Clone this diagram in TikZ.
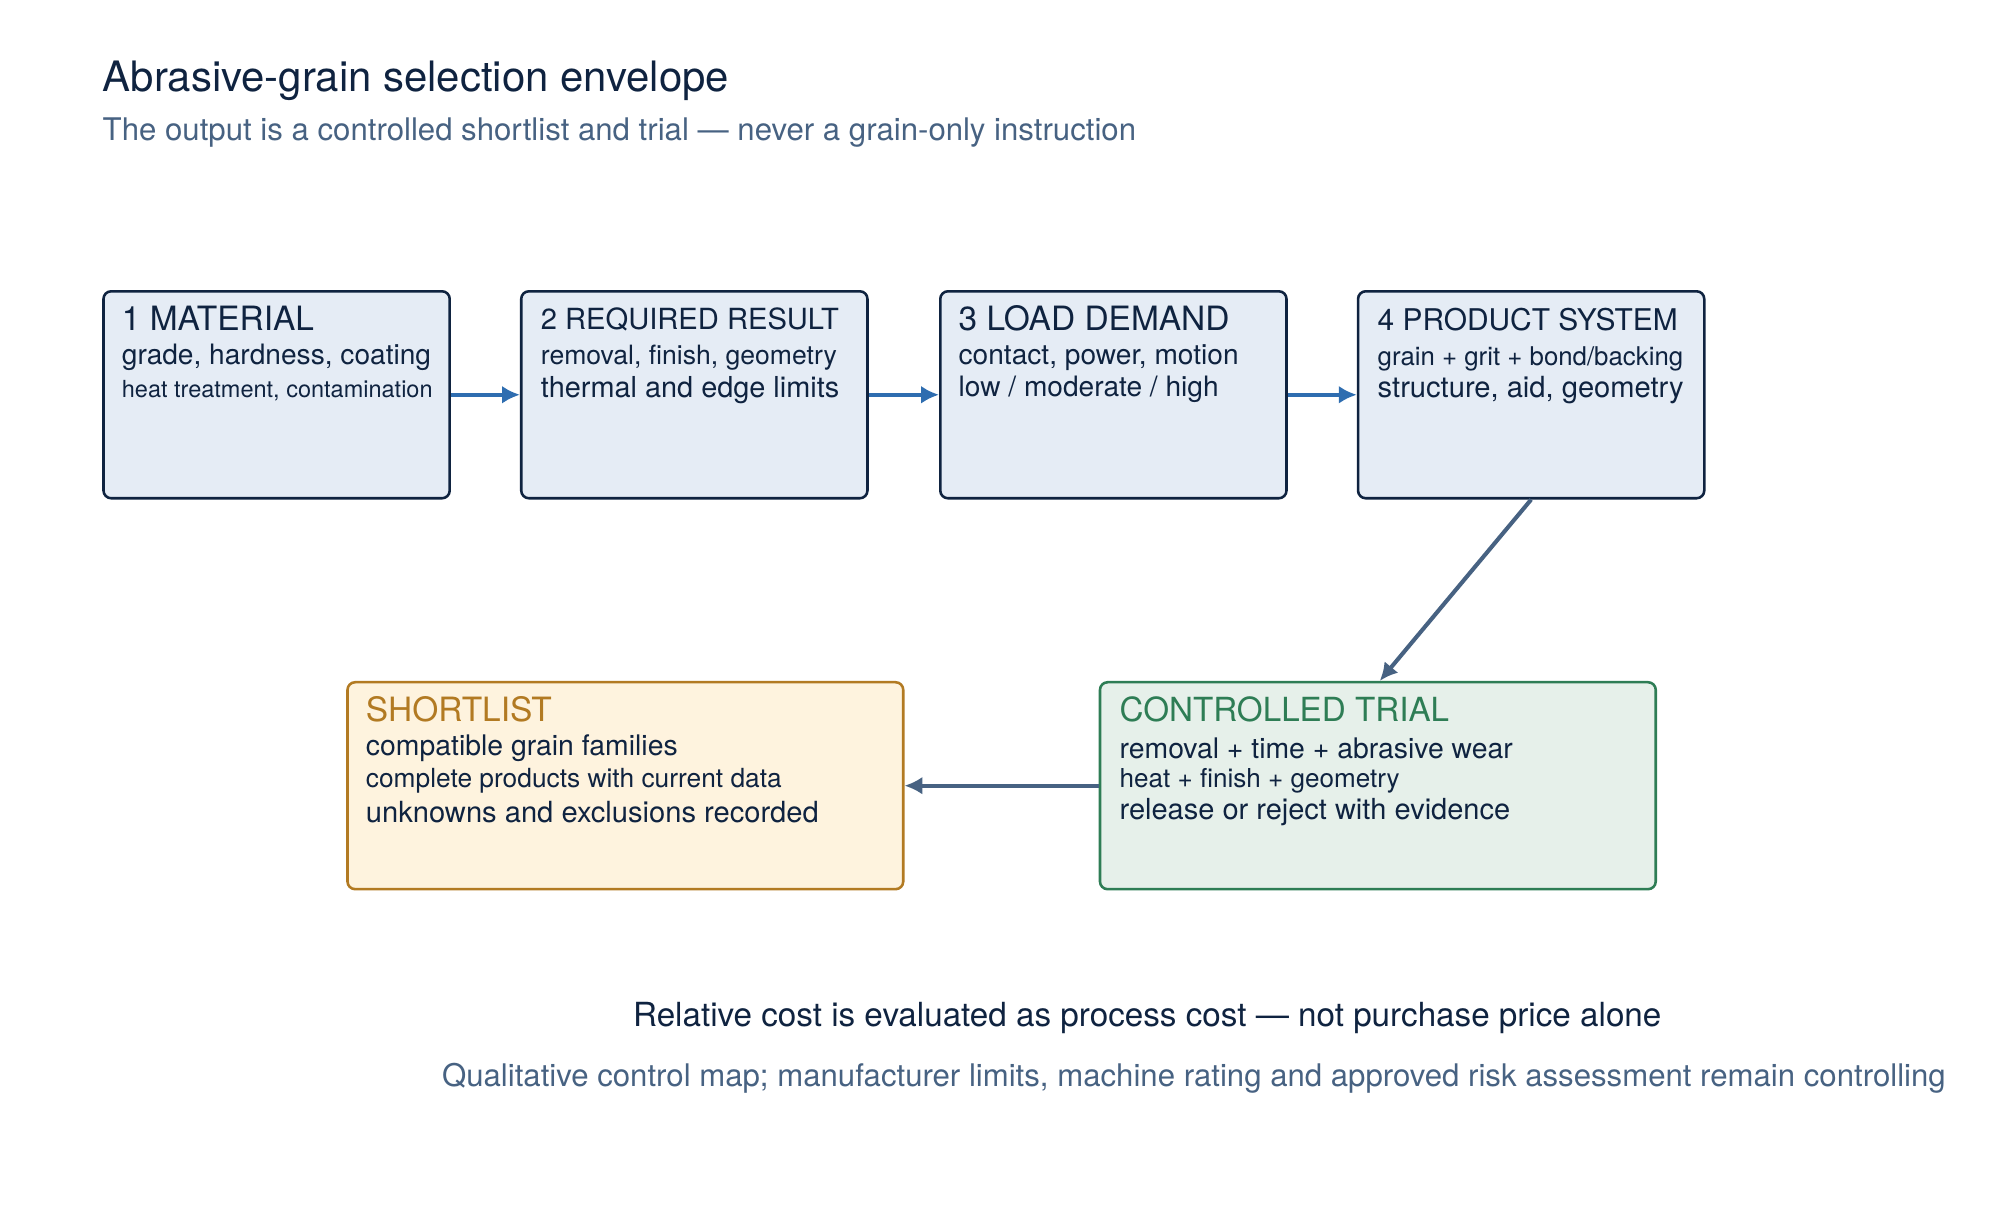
\documentclass[tikz,border=0pt]{standalone}
\usepackage{fontspec}
\setmainfont{TeX Gyre Heros}
\definecolor{navy}{HTML}{0F2340}
\definecolor{slate}{HTML}{476282}
\definecolor{flowblue}{HTML}{2E6DB0}
\definecolor{boxfill}{HTML}{E5ECF5}
\definecolor{shortfill}{HTML}{FEF3DE}
\definecolor{shortline}{HTML}{B27A22}
\definecolor{trialfill}{HTML}{E6F0EA}
\definecolor{trialline}{HTML}{2E7D55}
\tikzset{
  stage/.style={draw=navy, fill=boxfill, line width=1pt, rounded corners=3pt, minimum width=135.5pt, minimum height=81pt, inner sep=0pt},
  wide/.style={line width=1pt, rounded corners=3pt, minimum width=217.5pt, minimum height=81pt, inner sep=0pt},
  txt/.style={anchor=west, inner sep=0pt, text=navy},
  flow/.style={-{Latex[length=7pt,width=7pt]}, flowblue, line width=1.6pt},
  link/.style={-{Latex[length=7pt,width=7pt]}, slate, line width=1.6pt}
}
\usetikzlibrary{arrows.meta}
\newcommand{\fs}[1]{\fontsize{#1}{#1}\selectfont}
\begin{document}
\begin{tikzpicture}[x=0.5pt,y=0.5pt]
\useasboundingbox (0,0) rectangle (1560,-952);
% title
\node[txt] (title) at (80,-63) {\fs{16.4}Abrasive-grain selection envelope};
\node[txt, text=slate] (sub) at (80,-104) {\fs{12.2}The output is a controlled shortlist and trial — never a grain-only instruction};
% stages
\node[stage] (mat) at (216.5,-309) {};
\node[stage] (res) at (543.5,-309) {};
\node[stage] (load) at (871.5,-309) {};
\node[stage] (prod) at (1198.5,-309) {};
\node[txt] at (95,-249) {\fs{13.1}1 MATERIAL};
\node[txt] at (95,-280) {\fs{11}grade, hardness, coating};
\node[txt] at (95,-306) {\fs{9.2}heat treatment, contamination};
\node[txt] at (423,-250) {\fs{11.4}2 REQUIRED RESULT};
\node[txt] at (423,-280) {\fs{10.4}removal, finish, geometry};
\node[txt] at (423,-305) {\fs{11.3}thermal and edge limits};
\node[txt] at (750,-249) {\fs{13.1}3 LOAD DEMAND};
\node[txt] at (750,-280) {\fs{11}contact, power, motion};
\node[txt] at (750,-305) {\fs{11}low / moderate / high};
\node[txt] at (1078,-250) {\fs{11.7}4 PRODUCT SYSTEM};
\node[txt] at (1078,-281) {\fs{10.1}grain + grit + bond/backing};
\node[txt] at (1078,-305) {\fs{11.4}structure, aid, geometry};
% outcome boxes
\node[wide, draw=shortline, fill=shortfill] (short) at (489.5,-615) {};
\node[wide, draw=trialline, fill=trialfill] (trial) at (1078.5,-615) {};
\node[txt, text=shortline] at (286,-555) {\fs{13.1}SHORTLIST};
\node[txt] at (286,-586) {\fs{11.1}compatible grain families};
\node[txt] at (286,-611) {\fs{10.3}complete products with current data};
\node[txt] at (286,-636) {\fs{11.4}unknowns and exclusions recorded};
\node[txt, text=trialline] at (876,-555) {\fs{13}CONTROLLED TRIAL};
\node[txt] at (876,-586) {\fs{11.1}removal + time + abrasive wear};
\node[txt] at (876,-611) {\fs{10.2}heat + finish + geometry};
\node[txt] at (876,-636) {\fs{11.35}release or reject with evidence};
% connectors
\draw[flow] (mat) -- (res);
\draw[flow] (res) -- (load);
\draw[flow] (load) -- (prod);
\draw[link] (prod.south) -- (trial.north west -| 1080,0);
\draw[link] (trial) -- (short);
% footer
\node[inner sep=0pt, text=navy] (cost) at (898,-797) {\fs{13}Relative cost is evaluated as process cost — not purchase price alone};
\node[inner sep=0pt, text=slate] (note) at (934.5,-844) {\fs{12.2}Qualitative control map; manufacturer limits, machine rating and approved risk assessment remain controlling};
\end{tikzpicture}
\end{document}
